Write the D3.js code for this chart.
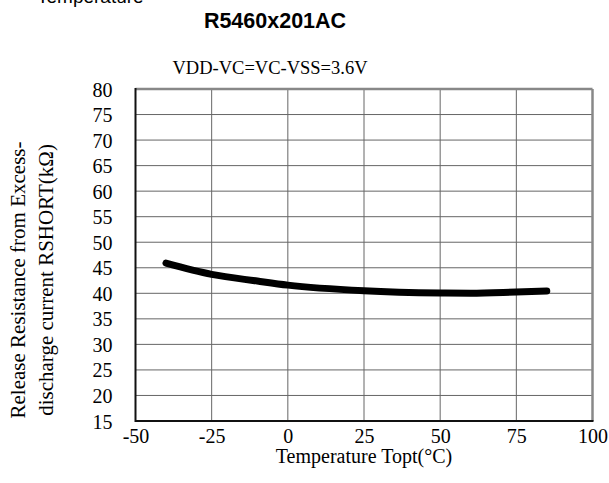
<!DOCTYPE html>
<html><head><meta charset="utf-8">
<script src="https://cdn.jsdelivr.net/npm/d3@7"></script>
<style>body{margin:0;background:#fff;}svg{display:block;}</style>
</head><body>
<svg id="c" width="609" height="483"></svg>
<script>
const temps = [-40, -25, -10, 0, 25, 50, 60, 75, 85];
const resistance = [45.9, 43.7, 42.4, 41.6, 40.5, 40.05, 40.0, 40.25, 40.45];
const xTicks = [-50, -25, 0, 25, 50, 75, 100];
const yTicks = [15, 20, 25, 30, 35, 40, 45, 50, 55, 60, 65, 70, 75, 80];
const title = "R5460x201AC";
const subtitle = "VDD-VC=VC-VSS=3.6V";
const xLabel = "Temperature Topt(°C)";
const yLabel = ["Release Resistance from Excess-", "discharge current RSHORT(kΩ)"];

const svg = d3.select("#c");
const L = 135.5, R = 592.5, T = 89, B = 421;
const x = d3.scaleLinear().domain([-50, 100]).range([L, R]);
const y = d3.scaleLinear().domain([15, 80]).range([B, T]);
const serif = "'Liberation Serif','Times New Roman',serif";
const sans = "'Liberation Sans',Arial,sans-serif";

// cropped header text
svg.append("text").attr("x", 37).attr("y", 3).attr("font-family", sans).attr("font-size", 19).text("Temperature");
svg.append("text").attr("x", 275).attr("y", 28).attr("text-anchor", "middle").attr("font-family", sans)
  .attr("font-weight", "bold").attr("font-size", 21.5).text(title);
svg.append("text").attr("x", 270).attr("y", 74).attr("text-anchor", "middle").attr("font-family", serif)
  .attr("font-size", 18.5).text(subtitle);

// grid
const g = svg.append("g");
g.selectAll("line.h").data(yTicks.slice(1, -1)).join("line")
  .attr("x1", L).attr("x2", R).attr("y1", d => y(d)).attr("y2", d => y(d))
  .attr("stroke", "#666").attr("stroke-width", 1);
g.selectAll("line.v").data(xTicks.slice(1, -1)).join("line")
  .attr("y1", T).attr("y2", B).attr("x1", d => x(d)).attr("x2", d => x(d))
  .attr("stroke", "#666").attr("stroke-width", 1);

// frame
svg.append("line").attr("x1", L).attr("x2", R).attr("y1", T).attr("y2", T).attr("stroke", "#888").attr("stroke-width", 2.5);
svg.append("line").attr("x1", R).attr("x2", R).attr("y1", T).attr("y2", B).attr("stroke", "#888").attr("stroke-width", 2.5);
svg.append("line").attr("x1", L).attr("x2", L).attr("y1", T - 1).attr("y2", B + 1).attr("stroke", "#111").attr("stroke-width", 2);
svg.append("line").attr("x1", L).attr("x2", R + 1).attr("y1", B).attr("y2", B).attr("stroke", "#111").attr("stroke-width", 2);

// axes (labels via d3 axes)
const yAxis = svg.append("g").attr("transform", `translate(${L},0)`)
  .call(d3.axisLeft(y).tickValues(yTicks).tickFormat(d => String(d)).tickSize(0).tickPadding(23));
yAxis.select(".domain").remove();
yAxis.selectAll("text").attr("font-family", serif).attr("font-size", 20).attr("fill", "#000").attr("dy", "0.35em");

const xAxis = svg.append("g").attr("transform", `translate(0,${B})`)
  .call(d3.axisBottom(x).tickValues(xTicks).tickFormat(d => String(d)).tickSize(0).tickPadding(10));
xAxis.select(".domain").remove();
xAxis.selectAll("text").attr("font-family", serif).attr("font-size", 20).attr("fill", "#000").attr("dy", "0.6em");

svg.append("text").attr("x", (L + R) / 2).attr("y", 463).attr("text-anchor", "middle")
  .attr("font-family", serif).attr("font-size", 20).text(xLabel);

const yl = svg.append("text").attr("transform", "translate(25,280) rotate(-90)")
  .attr("text-anchor", "middle").attr("font-family", serif).attr("font-size", 21);
yLabel.forEach((t, i) => yl.append("tspan").attr("x", 0).attr("y", i * 27.5).text(t));

// curve
const line = d3.line().x((d, i) => x(temps[i])).y(d => y(d)).curve(d3.curveMonotoneX);
svg.append("path").attr("d", line(resistance)).attr("fill", "none").attr("stroke", "#000")
  .attr("stroke-width", 7).attr("stroke-linecap", "round");
</script>
</body></html>
